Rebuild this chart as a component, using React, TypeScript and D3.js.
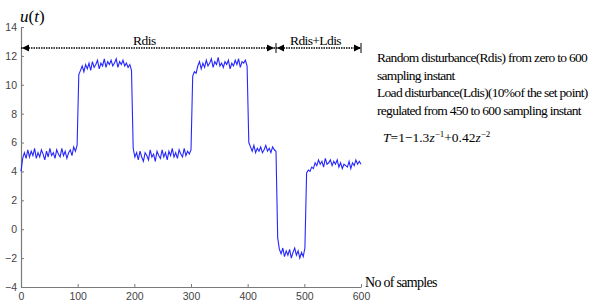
import { useEffect, useRef } from 'react';
import * as d3 from 'd3';

// control signal u(t), one reading every 3 samples
const sampleStep = 3;
const segIdle1 = [4.0, 4.9, 5.3, 4.9, 5.5, 5.0, 5.4, 5.1, 5.6, 4.9, 5.3, 5.0, 5.5, 5.2, 4.8, 5.4, 5.0, 5.6, 5.1, 5.3, 4.9, 5.5, 5.2, 5.0, 5.6, 5.1, 5.4, 4.9, 5.3, 5.5, 5.1, 5.7, 5.4, 5.8];
const segHigh1 = [10.7, 11.0, 11.3, 10.9, 11.4, 11.1, 11.5, 11.0, 11.6, 11.2, 11.4, 11.7, 11.1, 11.5, 11.3, 11.8, 11.2, 11.6, 11.4, 11.7, 11.3, 11.5, 11.8, 11.2, 11.6, 11.4, 11.7, 11.3, 11.5, 11.2, 11.4, 11.0];
const segIdle2 = [5.6, 5.0, 5.3, 4.8, 5.4, 5.0, 4.7, 5.3, 5.1, 4.8, 5.5, 5.0, 5.2, 4.7, 5.4, 5.1, 4.9, 5.5, 5.0, 5.3, 4.8, 5.4, 5.1, 5.6, 5.0, 5.3, 4.9, 5.5, 5.2, 5.0, 5.6, 5.1, 5.4, 5.2, 5.5];
const segHigh2 = [10.6, 10.9, 10.8, 11.3, 11.6, 11.1, 11.5, 11.2, 11.7, 11.3, 11.5, 11.8, 11.2, 11.6, 11.4, 11.9, 11.3, 11.5, 11.2, 11.6, 11.4, 11.7, 11.1, 11.5, 11.3, 11.7, 11.4, 11.8, 11.2, 11.6, 11.5, 11.7, 11.3];
const segIdle3 = [6.0, 5.7, 5.4, 5.8, 5.3, 5.6, 5.4, 5.7, 5.3, 5.5, 5.8, 5.4, 5.6, 5.3, 5.7, 5.5, 5.4];
const segLow = [-0.6, -1.4, -1.7, -1.3, -1.9, -1.5, -1.8, -1.4, -2.0, -1.6, -1.3, -1.8, -1.5, -2.0, -1.6, -1.9, -1.3];
const segLoad = [3.9, 4.1, 4.0, 4.3, 4.2, 4.6, 4.4, 4.8, 4.5, 4.7, 4.3, 4.9, 4.5, 4.6, 4.8, 4.4, 4.7, 4.5, 4.8, 4.3, 4.6, 4.2, 4.5, 4.4, 4.3, 4.7, 4.2, 4.6, 4.4, 4.8, 4.5, 4.7, 4.5];

const xTicks = [0, 100, 200, 300, 400, 500, 600];
const yTicks = [-4, -2, 0, 2, 4, 6, 8, 10, 12, 14];
const rdisRange = [0, 450];
const ldisRange = [450, 600];

const notes = [
  'Random disturbance(Rdis) from zero to 600',
  'sampling instant',
  'Load disturbance(Ldis)(10%of the set point)',
  'regulated from 450 to 600 sampling instant',
];

const values = [...segIdle1, ...segHigh1, ...segIdle2, ...segHigh2, ...segIdle3, ...segLow, ...segLoad];
const series = values.map((v, i) => ({ n: i * sampleStep, v }));

export default function App() {
  const gRef = useRef<SVGGElement>(null);

  const x = d3.scaleLinear().domain([0, 600]).range([21, 361]);
  const y = d3.scaleLinear().domain([-4, 14]).range([287, 27]);

  useEffect(() => {
    if (!gRef.current) return;
    const g = d3.select(gRef.current);
    g.selectAll('*').remove();

    const ax = g.append('g')
      .attr('transform', `translate(0,${y(-4)})`)
      .call(d3.axisBottom(x).tickValues(xTicks).tickSizeInner(-3).tickSizeOuter(0).tickPadding(6));
    const ay = g.append('g')
      .attr('transform', `translate(${x(0)},0)`)
      .call(d3.axisLeft(y).tickValues(yTicks).tickSizeInner(-3).tickSizeOuter(0).tickPadding(4));

    [ax, ay].forEach(a => {
      a.select('.domain').attr('stroke', '#7a7a7a').attr('stroke-width', 1.2);
      a.selectAll('.tick line').attr('stroke', '#7a7a7a');
      a.selectAll('.tick text')
        .attr('fill', '#444')
        .attr('font-family', 'Liberation Sans, Arial, sans-serif')
        .attr('font-size', 10.5);
    });
  }, []);

  const line = d3.line<{ n: number; v: number }>()
    .x(d => x(d.n))
    .y(d => y(d.v));

  const arrowY = 48;
  const head = (tip: number, dir: number) =>
    `M${tip},${arrowY} L${tip - dir * 7},${arrowY - 3.5} L${tip - dir * 7},${arrowY + 3.5} Z`;

  const serif = 'Liberation Serif, Times New Roman, serif';

  return (
    <svg width={604} height={302} style={{ position: 'absolute', left: 0, top: 0, background: '#fff' }}>
      <g ref={gRef} />
      <path d={line(series) ?? ''} fill="none" stroke="#2626ff" strokeWidth={1.1} />

      {/* disturbance span arrows */}
      <line x1={x(rdisRange[0])} x2={x(rdisRange[1]) - 1} y1={arrowY} y2={arrowY} stroke="#000" strokeWidth={1.3} strokeDasharray="1.5,1" />
      <path d={head(x(rdisRange[0]) + 1, -1)} fill="#000" />
      <path d={head(x(rdisRange[1]) - 2, 1)} fill="#000" />
      <line x1={x(ldisRange[0])} x2={x(ldisRange[1])} y1={arrowY} y2={arrowY} stroke="#000" strokeWidth={1.3} strokeDasharray="1.5,1" />
      <path d={head(x(ldisRange[0]) + 1, -1)} fill="#000" />
      <path d={head(x(ldisRange[1]), 1)} fill="#000" />
      <line x1={x(ldisRange[0])} x2={x(ldisRange[0])} y1={arrowY - 5} y2={arrowY + 5} stroke="#000" />
      <line x1={x(ldisRange[1])} x2={x(ldisRange[1])} y1={arrowY - 5} y2={arrowY + 5} stroke="#000" />
      <text x={(x(rdisRange[0]) + x(rdisRange[1])) / 2 - 4} y={45} textAnchor="middle" fontFamily={serif} fontSize={13.5} letterSpacing={-0.5}>Rdis</text>
      <text x={(x(ldisRange[0]) + x(ldisRange[1])) / 2 - 3} y={45} textAnchor="middle" fontFamily={serif} fontSize={13.5} letterSpacing={-0.6}>Rdis+Ldis</text>

      {/* axis titles */}
      <text x={20} y={22} fontFamily={serif} fontSize={17}>
        <tspan fontStyle="italic">u</tspan>(<tspan fontStyle="italic">t</tspan>)
      </text>
      <text x={365} y={287} fontFamily={serif} fontSize={14} letterSpacing={-0.7}>No of samples</text>

      {/* notes */}
      {notes.map((t, i) => (
        <text key={i} x={377} y={62 + i * 17.5} fontFamily={serif} fontSize={13.5} letterSpacing={-0.7}>{t}</text>
      ))}
      <text x={383} y={142} fontFamily={serif} fontSize={13.5}>
        <tspan fontStyle="italic">T</tspan>=1−1.3<tspan fontStyle="italic">z</tspan>
        <tspan dy={-5} fontSize={9}>−1</tspan>
        <tspan dy={5}>+0.42</tspan><tspan fontStyle="italic">z</tspan>
        <tspan dy={-5} fontSize={9}>−2</tspan>
      </text>
    </svg>
  );
}
